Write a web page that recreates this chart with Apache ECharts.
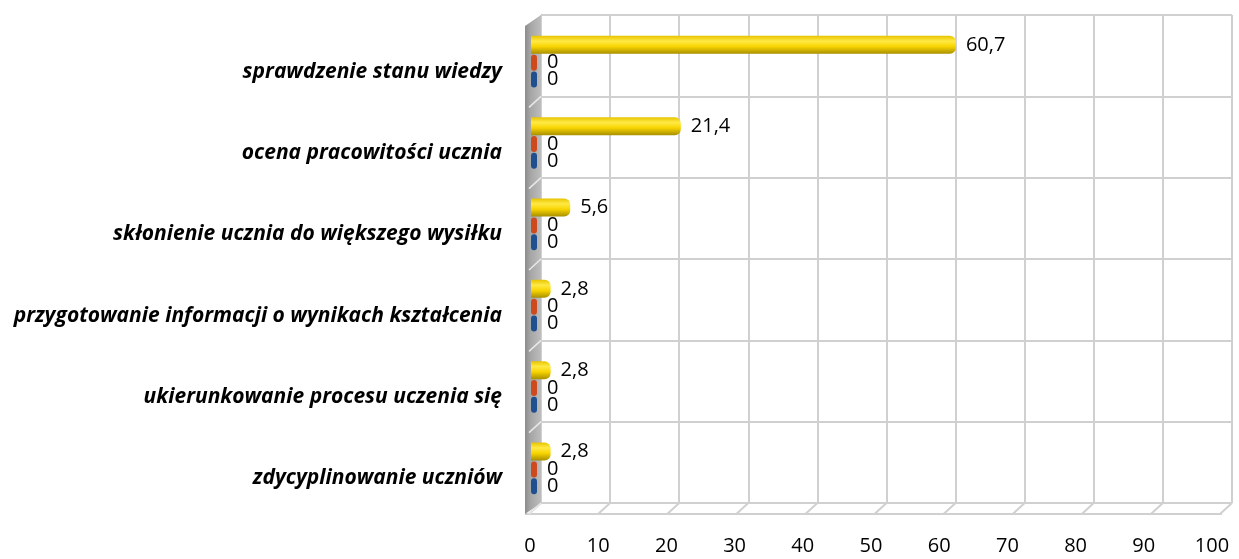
<!DOCTYPE html>
<html><head><meta charset="utf-8">
<script src="https://cdn.jsdelivr.net/npm/echarts@6/dist/echarts.min.js"></script>
<style>html,body{margin:0;padding:0;background:#fff}#c{width:1239px;height:559px}</style>
</head><body><div id="c"></div>
<script>
const categories = [
  "sprawdzenie stanu wiedzy",
  "ocena pracowitości ucznia",
  "skłonienie ucznia do większego wysiłku",
  "przygotowanie informacji o wynikach kształcenia",
  "ukierunkowanie procesu uczenia się",
  "zdycyplinowanie uczniów"
];
const seriesYellow = [60.7, 21.4, 5.6, 2.8, 2.8, 2.8];
const seriesRed = [0, 0, 0, 0, 0, 0];
const seriesBlue = [0, 0, 0, 0, 0, 0];
const xTicks = [0,10,20,30,40,50,60,70,80,90,100];

const W = 1239, H = 559;
const wall = {left: 541, right: 1232, top: 15, bottom: 503};
const depth = {dx: -16, dy: 11};
const gridColor = '#d0d0d0';

const chart = echarts.init(document.getElementById('c'), null, {renderer: 'canvas'});
const fmt = p => String(p.value).replace('.', ',');

const floorLines = xTicks.map((t, i) => {
  const x = wall.left + (wall.right - wall.left) * i / (xTicks.length - 1);
  return {type: 'line', shape: {x1: x, y1: wall.bottom, x2: x + depth.dx + 4, y2: wall.bottom + depth.dy},
    style: {stroke: gridColor, lineWidth: 2}, z: 1};
});
const sideLines = categories.map((c, i) => {
  const y = wall.top + (wall.bottom - wall.top) * (i + 1) / categories.length;
  return {type: 'line', shape: {x1: wall.left, y1: y, x2: wall.left + depth.dx + 4, y2: y + depth.dy},
    style: {stroke: '#e8e8e8', lineWidth: 1.5}, z: 3};
});

chart.setOption({
  animation: false,
  textStyle: {fontFamily: 'Open Sans'},
  grid: [
    {left: wall.left, right: W - wall.right, top: wall.top, bottom: H - wall.bottom},
    {left: 531, right: 8, top: wall.top + 6, bottom: H - wall.bottom - 6},
    {left: 530, right: 27, top: wall.top, bottom: 39},
    {left: 540, right: W - wall.right, top: wall.top + 16, bottom: H - wall.bottom - 16}
  ],
  xAxis: [
    {gridIndex: 0, type: 'value', min: 0, max: 100, interval: 10,
      axisLine: {show: false}, axisTick: {show: false}, axisLabel: {show: false},
      splitLine: {show: true, lineStyle: {color: gridColor, width: 2}}},
    {gridIndex: 1, type: 'value', min: 0, max: 100, interval: 10, show: false},
    {gridIndex: 2, type: 'value', min: 0, max: 100, interval: 10,
      axisLine: {show: false}, axisTick: {show: false}, splitLine: {show: false},
      axisLabel: {show: true, color: '#000', fontSize: 20, margin: 16, fontFamily: 'Open Sans'}},
    {gridIndex: 3, type: 'value', min: 0, max: 100, interval: 10, show: false}
  ],
  yAxis: [
    {gridIndex: 0, type: 'category', data: categories, inverse: true,
      axisLine: {show: false}, axisTick: {show: false}, axisLabel: {show: false},
      splitLine: {show: true, lineStyle: {color: gridColor, width: 2}}},
    {gridIndex: 1, type: 'category', data: categories, inverse: true, show: false},
    {gridIndex: 2, type: 'category', data: categories, inverse: true, show: false},
    {gridIndex: 3, type: 'category', data: categories, inverse: true,
      axisLine: {show: false}, axisTick: {show: false}, splitLine: {show: false},
      axisLabel: {show: true, color: '#000', fontSize: 21, fontWeight: 'bold', fontStyle: 'italic',
        margin: 38, fontFamily: 'Open Sans'}}
  ],
  graphic: [
    {type: 'polygon', shape: {points: [[wall.left, wall.top], [wall.left + depth.dx, wall.top + depth.dy],
        [wall.left + depth.dx, wall.bottom + depth.dy], [wall.left, wall.bottom]]},
      style: {fill: new echarts.graphic.LinearGradient(0, 0, 1, 0, [{offset: 0, color: '#8c8c8c'}, {offset: 0.35, color: '#a6a6a6'}, {offset: 1, color: '#bdbdbd'}])}, z: 2},
    {type: 'line', shape: {x1: wall.left + depth.dx, y1: wall.bottom + depth.dy, x2: wall.right + depth.dx + 6, y2: wall.bottom + depth.dy},
      style: {stroke: gridColor, lineWidth: 2}, z: 1},
    {type: 'line', shape: {x1: wall.left, y1: wall.bottom, x2: wall.right, y2: wall.bottom},
      style: {stroke: gridColor, lineWidth: 2}, z: 1},
    ...floorLines,
    ...sideLines
  ],
  series: [
    {type: 'bar', xAxisIndex: 1, yAxisIndex: 1, data: seriesYellow, barWidth: 18, barGap: '5%', z: 5,
      itemStyle: {borderRadius: [0, 6, 6, 0],
        color: new echarts.graphic.LinearGradient(0, 0, 0, 1, [
          {offset: 0, color: '#e8c400'}, {offset: 0.3, color: '#ffea45'}, {offset: 0.6, color: '#f7d400'}, {offset: 1, color: '#a88f00'}])},
      label: {show: true, position: 'right', distance: 10, formatter: fmt, color: '#000', fontSize: 20, fontFamily: 'Open Sans'}},
    {type: 'bar', xAxisIndex: 1, yAxisIndex: 1, data: seriesRed, barWidth: 16, barGap: '5%', barMinHeight: 6, z: 5,
      itemStyle: {color: '#cc4a1e', borderRadius: 3},
      label: {show: true, position: 'right', distance: 10, formatter: fmt, color: '#000', fontSize: 20, fontFamily: 'Open Sans'}},
    {type: 'bar', xAxisIndex: 1, yAxisIndex: 1, data: seriesBlue, barWidth: 16, barGap: '5%', barMinHeight: 6, z: 5,
      itemStyle: {color: '#1f4f8f', borderRadius: 3},
      label: {show: true, position: 'right', distance: 10, formatter: fmt, color: '#000', fontSize: 20, fontFamily: 'Open Sans'}}
  ]
});
</script></body></html>
